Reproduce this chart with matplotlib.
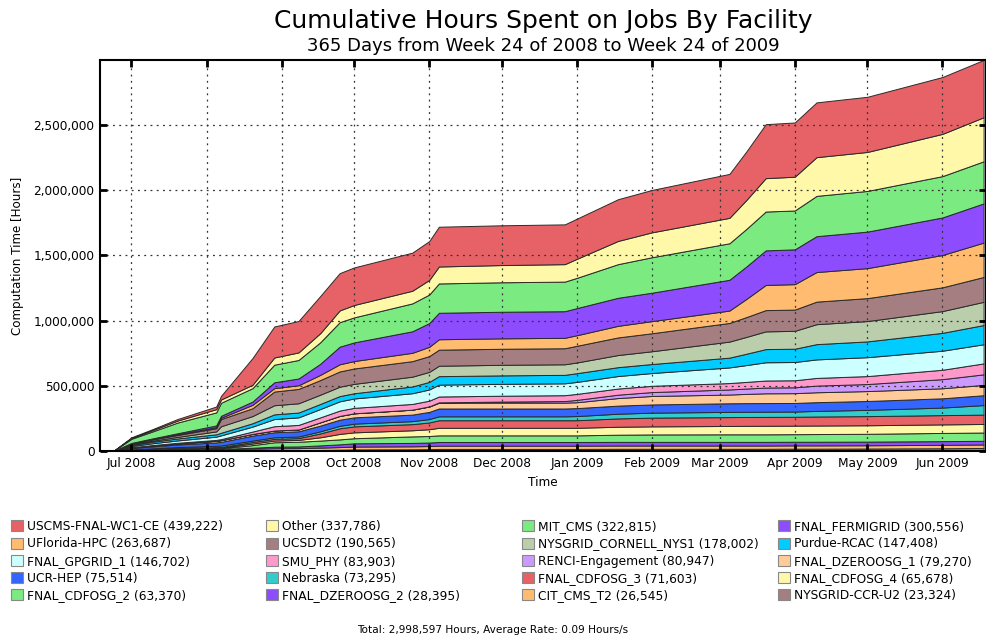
import matplotlib
matplotlib.use("Agg")
import matplotlib.pyplot as plt
import matplotlib.dates as mdates
from matplotlib.patches import Patch
from matplotlib.ticker import FuncFormatter
import numpy as np

# sample dates
dates = np.array([
    "2008-06-18", "2008-06-24", "2008-07-01", "2008-07-10", "2008-07-20",
    "2008-08-05", "2008-08-07", "2008-08-20", "2008-08-29", "2008-09-08",
    "2008-09-17", "2008-09-25", "2008-10-01", "2008-10-25", "2008-11-01",
    "2008-11-05", "2008-12-01", "2008-12-27", "2009-01-01", "2009-01-18",
    "2009-02-01", "2009-03-05", "2009-03-12", "2009-03-20", "2009-04-01",
    "2009-04-10", "2009-05-01", "2009-06-01", "2009-06-18"], dtype="datetime64[D]")

# cumulative hours per facility, in thousands
uscms = [0, 0, 5, 8, 12, 20, 28, 205, 238, 241, 285, 286, 288, 292, 298, 305, 305, 305, 308, 320,
         325, 337, 372, 414, 416, 420, 423, 436, 439.222]
other = [0, 0, 6, 10, 15, 25, 25, 26, 55, 58, 70, 90, 95, 97, 112, 130, 132, 134, 146, 178,
         191, 195, 222, 256, 259, 297, 299, 324, 337.786]
mit_cms = [0, 3, 32, 54, 82, 100, 100, 103, 135, 142, 165, 188, 192, 214, 219, 225, 226, 227, 232, 258,
           272, 280, 288, 298, 298, 309, 312, 317, 322.815]
fermigrid = [0, 0, 3, 5, 8, 13, 15, 25, 45, 52, 85, 135, 143, 165, 182, 203, 204, 204, 208, 215,
             218, 236, 249, 265, 267, 275, 280, 288, 300.556]
uflorida = [0, 0, 2, 3, 5, 8, 10, 26, 26, 28, 40, 55, 57, 64, 71, 80, 80, 80, 81, 89,
            93, 95, 139, 193, 195, 227, 230, 248, 263.687]
ucsdt2 = [0, 0, 6, 10, 15, 25, 55, 60, 105, 110, 112, 117, 118, 119, 121, 123, 123, 123, 128, 135,
          138, 143, 152, 163, 163, 173, 176, 182, 190.565]
cornell = [0, 0, 5, 8, 12, 22, 50, 55, 70, 71, 71, 72, 72, 75, 77, 80, 81, 81, 82, 93,
           98, 123, 129, 136, 137, 153, 156, 167, 178.002]
purdue = [0, 1, 8, 12, 15, 18, 20, 26, 36, 37, 39, 40, 40, 52, 58, 65, 65, 65, 67, 68,
          69, 75, 87, 101, 102, 117, 121, 137, 147.408]
gpgrid = [0, 1, 9, 14, 18, 25, 29, 38, 55, 58, 64, 71, 72, 82, 86, 91, 91, 91, 92, 96,
          98, 120, 129, 140, 140, 142, 145, 146, 146.702]
smu = [0, 0, 3, 4, 5, 7, 8, 18, 33, 35, 38, 41, 42, 44, 44, 45, 45, 45, 46, 47,
       48, 49, 51, 54, 54, 59, 61, 72, 83.903]
renci = [0, 0, 0, 0, 0, 0, 0, 0, 0, 0, 0, 0, 0, 0, 1, 3, 8, 12, 18, 26,
         30, 39, 41, 44, 45, 51, 54, 70, 80.947]
dzero1 = [0, 0, 4, 6, 8, 12, 13, 13, 13, 14, 25, 29, 31, 38, 41, 44, 45, 45, 45, 58,
          65, 67, 71, 75, 75, 76, 76, 77, 79.270]
ucr = [0, 2, 10, 15, 20, 26, 28, 38, 39, 40, 44, 47, 48, 50, 55, 60, 60, 60, 61, 62,
       63, 66, 66, 66, 66, 67, 68, 71, 75.514]
nebraska = [0, 0, 4, 6, 8, 10, 11, 11, 12, 12, 16, 19, 21, 23, 26, 30, 30, 30, 32, 36,
            38, 40, 40, 40, 40, 43, 48, 58, 73.295]
cdf3 = [0, 0, 2, 3, 4, 5, 5, 12, 13, 14, 30, 43, 46, 47, 52, 58, 58, 58, 58, 64,
        67, 68, 68, 68, 68, 69, 70, 71, 71.603]
cdf4 = [0, 0, 2, 3, 4, 5, 5, 12, 13, 14, 25, 42, 45, 47, 52, 58, 58, 58, 58, 61,
        62, 64, 65, 65.5, 65.5, 65.5, 65.5, 65.6, 65.678]
cdf2 = [0, 0, 2, 3, 4, 5, 5, 20, 34, 36, 37, 38, 39, 50, 50, 51, 51, 51, 51, 55,
        57, 58, 58, 58, 58, 59, 60, 63, 63.370]
dzero2 = [0, 0, 0, 0, 0, 1, 1, 7, 12, 13, 17, 21, 25, 26, 27, 28, 28, 28, 28, 28,
          28, 28, 28, 28, 28, 28, 28, 28.2, 28.395]
cit = [0, 0, 2, 5, 8, 11, 12, 14, 16, 16, 18, 20, 22, 23, 24, 25, 25, 25, 25, 25,
       25, 25, 25, 25, 25, 25, 25, 26.3, 26.545]
ccr = [0, 0, 0, 1, 2, 3, 3, 4, 5, 6, 8, 10, 12, 13, 14, 16, 16, 16, 16, 17,
       17, 17, 17, 17, 18, 18, 19, 21, 23.324]

names = ["USCMS-FNAL-WC1-CE", "Other", "MIT_CMS", "FNAL_FERMIGRID",
         "UFlorida-HPC", "UCSDT2", "NYSGRID_CORNELL_NYS1", "Purdue-RCAC",
         "FNAL_GPGRID_1", "SMU_PHY", "RENCI-Engagement", "FNAL_DZEROOSG_1",
         "UCR-HEP", "Nebraska", "FNAL_CDFOSG_3", "FNAL_CDFOSG_4",
         "FNAL_CDFOSG_2", "FNAL_DZEROOSG_2", "CIT_CMS_T2", "NYSGRID-CCR-U2"]
totals = [439222, 337786, 322815, 300556, 263687, 190565, 178002, 147408,
          146702, 83903, 80947, 79270, 75514, 73295, 71603, 65678,
          63370, 28395, 26545, 23324]
series = [uscms, other, mit_cms, fermigrid, uflorida, ucsdt2, cornell, purdue,
          gpgrid, smu, renci, dzero1, ucr, nebraska, cdf3, cdf4,
          cdf2, dzero2, cit, ccr]

palette = ["#e66266", "#fff8a9", "#7bea81", "#8d4dff", "#ffbc71", "#a57e81",
           "#baceac", "#00ccff", "#ccffff", "#ff99cc", "#cc99ff", "#ffcc99",
           "#3366ff", "#33cccc"]
colors = [palette[i % len(palette)] for i in range(len(names))]


def main():
    fig = plt.figure(figsize=(9.87, 6.37), dpi=100)
    ax = fig.add_axes([100 / 987, 1 - 451 / 637, 886 / 987, 391 / 637])

    ys = [np.array(s) * 1000 for s in series]
    ax.stackplot(dates, *ys[::-1], colors=colors[::-1],
                 edgecolor="#2a2a2a", linewidth=0.7)

    ax.set_xlim(np.datetime64("2008-06-18"), np.datetime64("2009-06-19"))
    ax.set_ylim(0, 2998597)
    ax.xaxis.set_major_locator(mdates.MonthLocator())
    ax.xaxis.set_major_formatter(mdates.DateFormatter("%b %Y"))
    ax.yaxis.set_major_locator(plt.MultipleLocator(500000))
    ax.yaxis.set_major_formatter(FuncFormatter(lambda v, p: f"{int(v):,}"))
    ax.tick_params(direction="in", length=5, width=2, top=True, right=True,
                   labelsize=8.7, pad=4)
    ax.grid(True, color="#333333", linestyle=(0, (1.5, 3.5)), linewidth=0.9)
    ax.set_axisbelow(False)
    for sp in ax.spines.values():
        sp.set_linewidth(1.5)
    ax.set_xlabel("Time", fontsize=8.7, labelpad=5)
    ax.set_ylabel("Computation Time [Hours]", fontsize=8.6, labelpad=7)

    fig.text(543 / 987, 1 - 21 / 637, "Cumulative Hours Spent on Jobs By Facility",
             ha="center", va="center", fontsize=18)
    fig.text(543 / 987, 1 - 46 / 637, "365 Days from Week 24 of 2008 to Week 24 of 2009",
             ha="center", va="center", fontsize=13)

    # legend: 4 columns filled row by row
    col_x = [11, 266, 522, 778]
    for c in range(4):
        handles = []
        for r in range(5):
            i = r * 4 + c
            handles.append(Patch(facecolor=colors[i], edgecolor="#888888", linewidth=0.8,
                                 label=f"{names[i]} ({totals[i]:,})"))
        fig.legend(handles=handles, loc="upper left",
                   bbox_to_anchor=(col_x[c] / 987, 1 - 520 / 637),
                   frameon=False, fontsize=8.8, borderpad=0, borderaxespad=0,
                   handlelength=1.0, handleheight=1.0, handletextpad=0.3,
                   labelspacing=0.35)

    fig.text(493 / 987, 1 - 630 / 637,
             "Total: 2,998,597 Hours, Average Rate: 0.09 Hours/s",
             ha="center", va="center", fontsize=7.6)

    fig.savefig("out.png", dpi=100)


if __name__ == "__main__":
    main()
